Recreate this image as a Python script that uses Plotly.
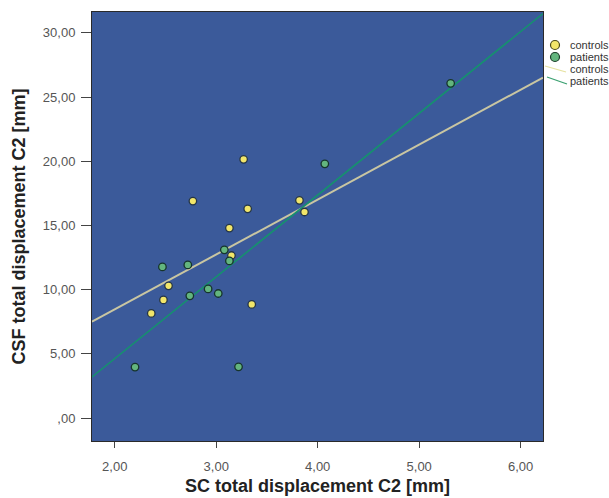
import plotly.graph_objects as go

# ---- data ----
controls_x = [3.27, 2.77, 3.31, 3.13, 3.15, 2.53, 2.48, 2.36, 3.35, 3.82, 3.87]
controls_y = [20.15, 16.9, 16.3, 14.8, 12.66, 10.3, 9.2, 8.15, 8.85, 16.96, 16.05]
patients_x = [2.47, 2.72, 3.08, 3.13, 2.92, 3.02, 2.74, 2.20, 3.22, 4.07, 5.31]
patients_y = [11.77, 11.93, 13.1, 12.24, 10.06, 9.7, 9.52, 3.97, 3.99, 19.8, 26.07]

# fit line coefficients [intercept, slope]
fit_controls = [-0.10, 4.28]
fit_patients = [-8.11, 6.37]

x_range = [1.776, 6.22]
y_range = [-1.79, 31.63]
x_tickvals = [2, 3, 4, 5, 6]
x_ticktext = ["2,00", "3,00", "4,00", "5,00", "6,00"]
y_tickvals = [0, 5, 10, 15, 20, 25, 30]
y_ticktext = [",00", "5,00", "10,00", "15,00", "20,00", "25,00", "30,00"]
legend_labels = ["controls", "patients", "controls", "patients"]

# ---- styles ----
BG = "#3b5a9a"
YEL = "#f2e66a"
GRN = "#63b57e"
LINE_C = "#c9c6a2"
LINE_P = "#16906f"
FONT = "Liberation Sans, Arial, sans-serif"

fig = go.Figure()

def fit_y(coef, xs):
    return [coef[0] + coef[1] * x for x in xs]

fig.add_trace(go.Scatter(x=x_range, y=fit_y(fit_controls, x_range), mode="lines",
                         line=dict(color=LINE_C, width=2), name="controls fit",
                         showlegend=False, hoverinfo="skip"))
fig.add_trace(go.Scatter(x=x_range, y=fit_y(fit_patients, x_range), mode="lines",
                         line=dict(color=LINE_P, width=1.6), name="patients fit",
                         showlegend=False, hoverinfo="skip"))
fig.add_trace(go.Scatter(x=controls_x, y=controls_y, mode="markers", name="controls",
                         marker=dict(color=YEL, size=7.5, line=dict(color="#243548", width=1.3)),
                         showlegend=False))
fig.add_trace(go.Scatter(x=patients_x, y=patients_y, mode="markers", name="patients",
                         marker=dict(color=GRN, size=7.5, line=dict(color="#16342c", width=1.3)),
                         showlegend=False))

# ---- custom legend (pixel-placed in paper coords) ----
W, H = 609, 498
ML, MR, MT, MB = 92, 66, 12, 57
pw, ph = W - ML - MR, H - MT - MB

def px(xp):
    return (xp - ML) / pw

def py(yp):
    return 1 - (yp - MT) / ph

shapes = []
for cy, col, oc in [(45, YEL, "#4a4a1a"), (57, GRN, "#1d3d2a")]:
    shapes.append(dict(type="circle", xref="paper", yref="paper",
                       x0=px(550.5), x1=px(559.5), y0=py(cy + 4.5), y1=py(cy - 4.5),
                       fillcolor=col, line=dict(color=oc, width=1.2)))
shapes.append(dict(type="line", xref="paper", yref="paper",
                   x0=px(545), y0=py(66), x1=px(566), y1=py(72),
                   line=dict(color="#e6e2a0", width=1.3)))
shapes.append(dict(type="line", xref="paper", yref="paper",
                   x0=px(547), y0=py(77), x1=px(567), y1=py(84),
                   line=dict(color="#3aa070", width=1.3)))

annotations = []
for lab, ty in zip(legend_labels, [45, 57, 69, 81]):
    annotations.append(dict(text=lab, xref="paper", yref="paper", x=px(568), y=py(ty),
                            xanchor="left", yanchor="middle", showarrow=False,
                            font=dict(family=FONT, size=11, color="#333333")))

fig.update_layout(
    width=W, height=H,
    margin=dict(l=ML, r=MR, t=MT, b=MB, autoexpand=False),
    paper_bgcolor="white", plot_bgcolor=BG,
    shapes=shapes, annotations=annotations,
    showlegend=False,
    font=dict(family=FONT),
)
fig.update_xaxes(range=x_range, tickvals=x_tickvals, ticktext=x_ticktext,
                 showgrid=False, zeroline=False, ticks="outside", ticklen=6,
                 tickcolor="#444", showline=True, linecolor="#2a2a2a", linewidth=1,
                 mirror=True, ticklabelstandoff=7,
                 tickfont=dict(size=13, color="#555555", family=FONT),
                 title=dict(text="<b>SC total displacement C2 [mm]</b>", standoff=6,
                            font=dict(size=18, color="#222222", family=FONT)))
fig.update_yaxes(range=y_range, tickvals=y_tickvals, ticktext=y_ticktext,
                 showgrid=False, zeroline=False, ticks="outside", ticklen=10,
                 tickcolor="#444", showline=True, linecolor="#2a2a2a", linewidth=1,
                 mirror=True, ticklabelstandoff=3,
                 tickfont=dict(size=13, color="#555555", family=FONT),
                 title=dict(text="<b>CSF total displacement C2 [mm]</b>", standoff=12,
                            font=dict(size=18, color="#222222", family=FONT)))

fig.write_html("out.html", config={"displayModeBar": False},
               post_script="document.body.style.margin='0';document.body.style.overflow='hidden';")
